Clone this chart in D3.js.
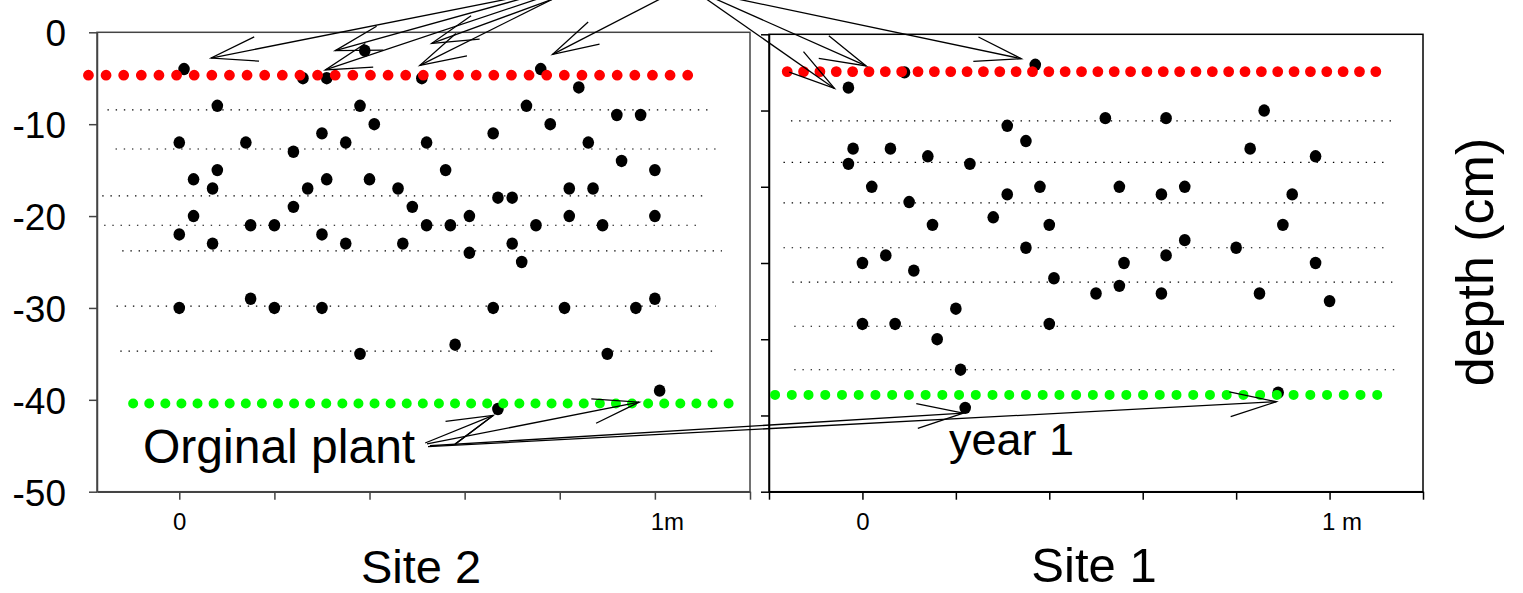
<!DOCTYPE html>
<html>
<head>
<meta charset="utf-8">
<script src="https://cdnjs.cloudflare.com/ajax/libs/d3/7.8.5/d3.min.js"></script>
<style>
  body { margin: 0; background: #ffffff; }
  svg text { font-family: "Liberation Sans", Arial, sans-serif; fill: #000; }
</style>
</head>
<body>
<div id="chart"></div>
<script>
// ---------- data ----------
// Site 2 (left panel): position along transect (m) and depth (cm)
var site2X = [0.01, 0.39, 0.26, 0.31, 0.51, 0.76, 0.84, 0.08, 0.38, 0.73,
  0.41, 0.78, 0.92, 0.97, 0.30, 0.66, 0.00, 0.14, 0.35, 0.52,
  0.86, 0.24, 0.93, 0.08, 0.56, 1.00, 0.03, 0.31, 0.40, 0.07,
  0.27, 0.46, 0.82, 0.87, 0.67, 0.70, 0.00, 0.03, 0.07, 0.15,
  0.20, 0.24, 0.30, 0.35, 0.47, 0.49, 0.52, 0.57, 0.61, 0.61,
  0.70, 0.72, 0.75, 0.82, 0.89, 1.00, 0.00, 0.15, 0.20, 0.30,
  0.66, 0.81, 0.96, 1.00, 0.38, 0.58, 0.90, 1.01, 0.67];
var site2Depth = [-4, -2, -5, -5, -5, -4, -6, -8, -8, -8,
  -10, -10, -9, -9, -11, -11, -12, -12, -12, -12,
  -12, -13, -14, -15, -15, -15, -16, -16, -16, -17,
  -17, -17, -17, -17, -18, -18, -22, -20, -23, -21,
  -21, -19, -22, -23, -23, -19, -21, -21, -20, -24,
  -23, -25, -21, -20, -21, -20, -30, -29, -30, -30,
  -30, -30, -30, -29, -35, -34, -35, -39, -41];

// Site 1 (right panel)
var site1X = [0.37, 0.09, -0.03, 0.52, 0.65, 0.86, 0.31, 0.35, -0.02, 0.06,
  0.83, -0.03, 0.14, 0.23, 0.97, 0.02, 0.31, 0.38, 0.55, 0.64,
  0.69, 0.92, 0.10, 0.15, 0.28, 0.40, 0.90, 0.00, 0.05, 0.11,
  0.35, 0.41, 0.50, 0.55, 0.56, 0.65, 0.64, 0.69, 0.80, 0.85,
  0.97, 1.00, 0.00, 0.07, 0.40, 0.20, 0.16, 0.21, 0.89, 0.22];
var site1Depth = [-4, -5, -7, -11, -11, -10, -12, -14, -15, -15,
  -15, -17, -16, -17, -16, -20, -21, -20, -20, -21,
  -20, -21, -22, -25, -24, -25, -25, -30, -29, -31,
  -28, -32, -34, -33, -30, -29, -34, -27, -28, -34,
  -30, -35, -38, -38, -38, -36, -40, -44, -47, -49];

// dotted guide lines: depth, start, end
var site2GuideDepth = [-8.45, -12.7, -17.8, -21.0, -23.8, -29.8, -34.7];
var site2GuideFrom = [-0.151, -0.134, -0.162, -0.158, -0.120, -0.132, -0.124];
var site2GuideTo = [1.111, 1.128, 1.100, 1.090, 1.141, 1.128, 1.134];
var site1GuideDepth = [-11.36, -16.8, -22.1, -28.0, -32.5, -38.3, -44.0];
var site1GuideFrom = [-0.153, -0.169, -0.169, -0.169, -0.150, -0.146, -0.146];
var site1GuideTo = [1.136, 1.119, 1.119, 1.117, 1.141, 1.141, 1.141];

// surface (red) and original plant (green) rows: depth, start, end, number of dots
var levelNames = ["surface", "original"];
var site2LevelDepth = [-4.67, -40.4];
var site2LevelFrom = [-0.191, -0.097];
var site2LevelTo = [1.069, 1.155];
var site2LevelDots = [35, 38];
var site1LevelDepth = [-4.89, -47.3];
var site1LevelFrom = [-0.161, -0.187];
var site1LevelTo = [1.099, 1.102];
var site1LevelDots = [37, 37];

// ticks
var site2XTicks = [0, 0.2, 0.4, 0.6, 0.8, 1.0, 1.2];
var site1XTicks = [-0.2, 0, 0.2, 0.4, 0.6, 0.8, 1.0, 1.2];
var site2XLabels = ["0", "", "", "", "", "1m", ""];
var site1XLabels = ["", "0", "", "", "", "", "1 m", ""];
var site2YTicks = [0, -10, -20, -30, -40, -50];
var site1YTicks = [0, -10, -20, -30, -40, -50, -60];

// annotation arrows: [panel (2 = Site 2, 1 = Site 1), x, depth]
var arrowTails = [[2, 0.737, 4.1], [2, 0.737, 3.9], [2, 0.769, 3.9], [2, 0.790, 3.7],
  [2, 0.800, 4.0], [2, 1.010, 3.6], [2, 1.095, 4.1], [2, 1.107, 4.1], [2, 1.139, 4.0],
  [2, 0.517, -44.7], [2, 0.580, -44.8], [2, 0.521, -44.8], [2, 0.527, -45.0], [2, 0.523, -45.1]];
var arrowTips = [[2, 0.067, -2.8], [2, 0.328, -2.0], [2, 0.307, -4.1], [2, 0.531, -1.2],
  [2, 0.506, -3.6], [2, 0.785, -2.4], [1, -0.06, -7.1], [1, 0.008, -4.15], [1, 0.34, -3.2],
  [2, 0.660, -41.7], [2, 0.660, -41.7], [2, 0.967, -40.25], [1, 0.216, -49.7], [1, 0.886, -48.2]];
var arrowHeads = [1, 1, 1, 1, 1, 1, 1, 1, 1, 1, 0, 1, 1, 1];

// ---------- drawing ----------
var width = 1523, height = 593;

var svg = d3.select("#chart").append("svg")
  .attr("width", width)
  .attr("height", height);

var x2 = d3.scaleLinear().domain([-0.173, 1.2]).range([97, 750]);
var y2 = d3.scaleLinear().domain([0, -50]).range([32.3, 491.7]);
var x1 = d3.scaleLinear().domain([-0.2, 1.2]).range([769, 1423]);
var y1 = d3.scaleLinear().domain([0, -60]).range([34.3, 491.7]);

var panels = {
  2: {x: x2, y: y2, frame: "#444", pts: [site2X, site2Depth],
      guides: [site2GuideDepth, site2GuideFrom, site2GuideTo],
      levels: [site2LevelDepth, site2LevelFrom, site2LevelTo, site2LevelDots],
      xTicks: site2XTicks, xLabels: site2XLabels, yTicks: site2YTicks, yLabels: true},
  1: {x: x1, y: y1, frame: "#000", pts: [site1X, site1Depth],
      guides: [site1GuideDepth, site1GuideFrom, site1GuideTo],
      levels: [site1LevelDepth, site1LevelFrom, site1LevelTo, site1LevelDots],
      xTicks: site1XTicks, xLabels: site1XLabels, yTicks: site1YTicks, yLabels: false}
};

function drawPanel(p) {
  var g = svg.append("g");
  var xr = p.x.range(), yr = p.y.range();

  // frame (top + right)
  g.append("rect")
    .attr("x", xr[0]).attr("y", yr[0])
    .attr("width", xr[1] - xr[0]).attr("height", yr[1] - yr[0])
    .attr("fill", "none")
    .attr("stroke", p.frame)
    .attr("stroke-width", 1.5);

  // y axis
  var yAxis = d3.axisLeft(p.y)
    .tickValues(p.yTicks)
    .tickSize(8)
    .tickSizeOuter(0)
    .tickPadding(23)
    .tickFormat(function(d) { return p.yLabels ? String(d) : ""; });
  var ya = g.append("g")
    .attr("transform", "translate(" + xr[0] + ",0)")
    .call(yAxis);
  ya.selectAll("path, line").attr("stroke", p.frame).attr("stroke-width", 1.5);
  ya.selectAll("text")
    .attr("font-size", 37)
    .attr("font-family", "Liberation Sans, Arial, sans-serif")
    .attr("dy", "0.36em");

  // x axis
  var xAxis = d3.axisBottom(p.x)
    .tickValues(p.xTicks)
    .tickSize(8)
    .tickSizeOuter(0)
    .tickPadding(13)
    .tickFormat(function(d, i) { return p.xLabels[i]; });
  var xa = g.append("g")
    .attr("transform", "translate(0," + yr[1] + ")")
    .call(xAxis);
  xa.selectAll("path, line").attr("stroke", p.frame).attr("stroke-width", 1.5);
  xa.selectAll("text")
    .attr("font-size", 24)
    .attr("font-family", "Liberation Sans, Arial, sans-serif")
    .attr("dx", function(d) { return d === 0 ? 0 : 12; });

  // dotted guide lines
  g.selectAll(".guide")
    .data(p.guides[0])
    .enter()
    .append("line")
    .attr("class", "guide")
    .attr("x1", function(d, i) { return p.x(p.guides[1][i]); })
    .attr("x2", function(d, i) { return p.x(p.guides[2][i]); })
    .attr("y1", function(d) { return p.y(d); })
    .attr("y2", function(d) { return p.y(d); })
    .attr("stroke", "#000")
    .attr("stroke-width", 1.2)
    .attr("stroke-dasharray", "1.4 6.8");

  // plant points
  g.selectAll(".pt")
    .data(p.pts[0])
    .enter()
    .append("ellipse")
    .attr("class", "pt")
    .attr("cx", function(d) { return p.x(d); })
    .attr("cy", function(d, i) { return p.y(p.pts[1][i]); })
    .attr("rx", 5.8)
    .attr("ry", 6.2)
    .attr("fill", "#000");

  // red surface row and green original-plant row, drawn as round dots
  g.selectAll(".level")
    .data(levelNames)
    .enter()
    .append("line")
    .attr("class", "level")
    .attr("x1", function(d, i) { return p.x(p.levels[1][i]); })
    .attr("x2", function(d, i) { return p.x(p.levels[2][i]) + 1; })
    .attr("y1", function(d, i) { return p.y(p.levels[0][i]); })
    .attr("y2", function(d, i) { return p.y(p.levels[0][i]); })
    .attr("stroke", function(d) { return d == "surface" ? "#ff0000" : "#00ff00"; })
    .attr("stroke-width", function(d) { return d == "surface" ? 10.8 : 10; })
    .attr("stroke-linecap", "round")
    .attr("stroke-dasharray", function(d, i) {
      var step = (p.x(p.levels[2][i]) - p.x(p.levels[1][i])) / (p.levels[3][i] - 1);
      return "0 " + step;
    });
}

drawPanel(panels[2]);
drawPanel(panels[1]);

// ---------- annotation arrows ----------
function pos(a) {
  var p = panels[a[0]];
  return [p.x(a[1]), p.y(a[2])];
}

var notes = svg.append("g")
  .attr("stroke", "#000")
  .attr("stroke-width", 1.3)
  .attr("fill", "none");

arrowTips.forEach(function(tip, i) {
  var t = pos(tip), s = pos(arrowTails[i]);
  notes.append("line")
    .attr("x1", s[0]).attr("y1", s[1])
    .attr("x2", t[0]).attr("y2", t[1]);
  if (!arrowHeads[i]) return;
  var ang = Math.atan2(s[1] - t[1], s[0] - t[0]);
  var len = 48, spread = 15 * Math.PI / 180;
  var h1 = [t[0] + len * Math.cos(ang - spread), t[1] + len * Math.sin(ang - spread)];
  var h2 = [t[0] + len * Math.cos(ang + spread), t[1] + len * Math.sin(ang + spread)];
  notes.append("path")
    .attr("d", d3.line()([h1, t, h2]));
});

// ---------- labels ----------
svg.append("text")
  .attr("x", 143).attr("y", 463)
  .attr("font-size", 48)
  .text("Orginal plant");

svg.append("text")
  .attr("x", 949).attr("y", 455)
  .attr("font-size", 45)
  .text("year 1");

svg.append("text")
  .attr("x", 421).attr("y", 583)
  .attr("text-anchor", "middle")
  .attr("font-size", 47)
  .text("Site 2");

svg.append("text")
  .attr("x", 1094).attr("y", 582)
  .attr("text-anchor", "middle")
  .attr("font-size", 49)
  .text("Site 1");

svg.append("text")
  .attr("transform", "translate(1493,262) rotate(-90)")
  .attr("text-anchor", "middle")
  .attr("font-size", 52)
  .text("depth (cm)");
</script>
</body>
</html>
